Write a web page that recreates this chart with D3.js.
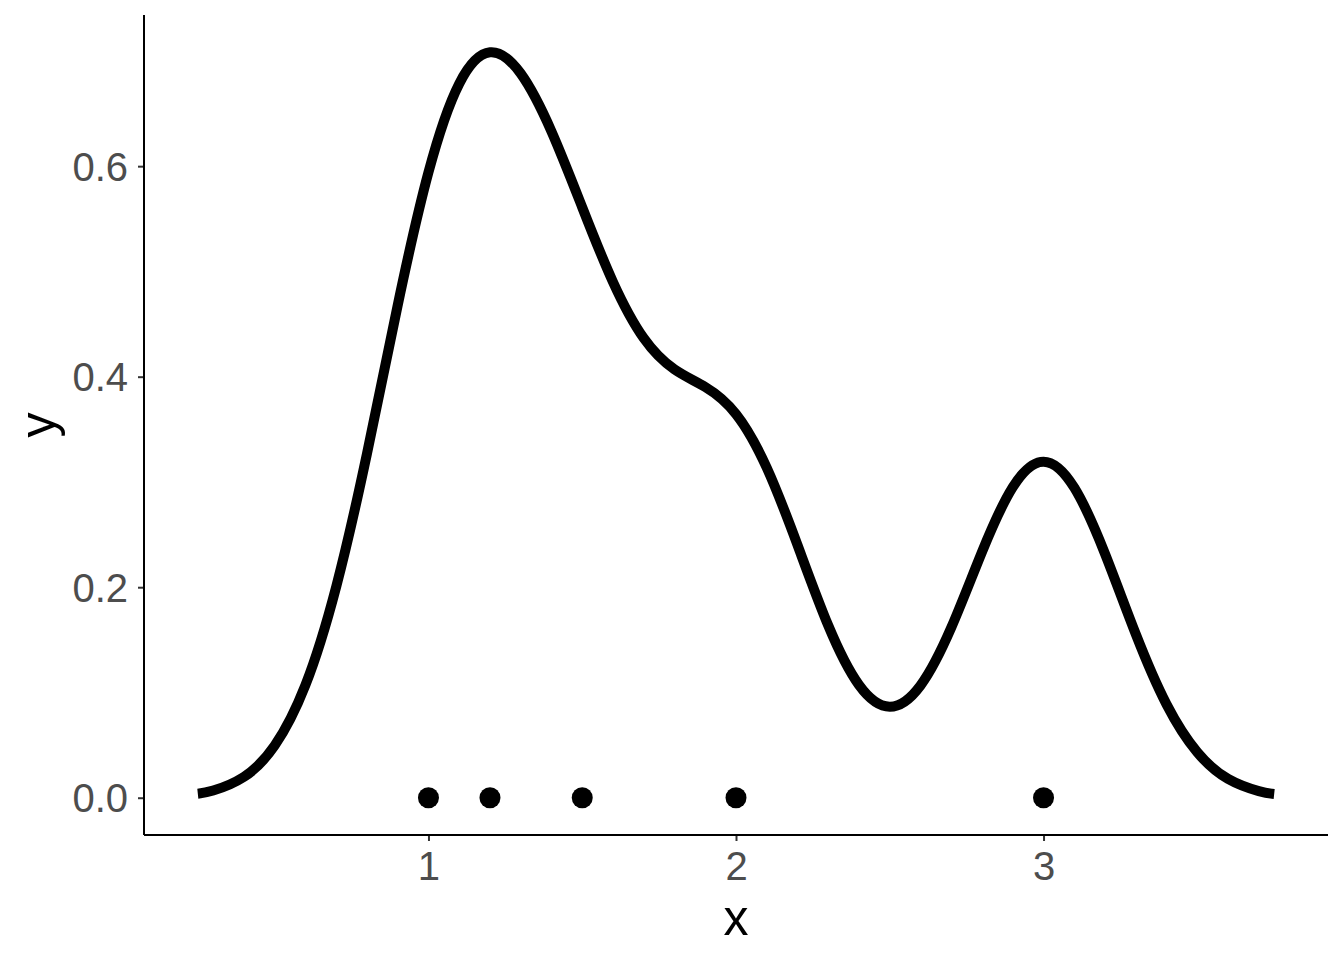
<!DOCTYPE html>
<html>
<head>
<meta charset="utf-8">
<script src="https://cdn.jsdelivr.net/npm/d3@7"></script>
<style>
  body { margin: 0; background: #fff; }
  text { font-family: "Liberation Sans", Arial, sans-serif; }
</style>
</head>
<body>
<div id="chart"></div>
<script>
// observed points (all at y = 0)
var pointX = [1, 1.2, 1.5, 2, 3];
// density curve
var curveX = [0.25, 0.3, 0.4, 0.5, 0.6, 0.7, 0.8, 0.9, 1.0, 1.1, 1.2, 1.3, 1.4, 1.5, 1.6, 1.7, 1.8, 1.9,
  2.0, 2.1, 2.2, 2.3, 2.4, 2.5, 2.6, 2.7, 2.8, 2.9, 3.0, 3.1, 3.2, 3.3, 3.4, 3.5, 3.6, 3.7, 3.75];
var curveY = [0.0038, 0.0068, 0.0198, 0.0496, 0.1071, 0.2005, 0.3268, 0.4679, 0.5942, 0.6784, 0.7082,
  0.6880, 0.6330, 0.5609, 0.4900, 0.4366, 0.4069, 0.3902, 0.3645, 0.3135, 0.2401, 0.1636, 0.1071,
  0.0865, 0.1067, 0.1617, 0.2336, 0.2951, 0.3193, 0.2946, 0.2317, 0.1554, 0.0887, 0.0432, 0.0179,
  0.0063, 0.0035];
var xTicks = [1, 2, 3];
var yTicks = [0, 0.2, 0.4, 0.6];

var svgWidth = 1344, svgHeight = 960;
var margin = {top: 15, right: 16, bottom: 125, left: 144};
var chartWidth = svgWidth - margin.left - margin.right;
var chartHeight = svgHeight - margin.top - margin.bottom;

var svg = d3.select("#chart").append("svg")
  .attr("width", svgWidth)
  .attr("height", svgHeight);
var g = svg.append("g")
  .attr("transform", `translate(${margin.left},${margin.top})`);

// ggplot style 5% expansion
var xMin = d3.min(curveX), xMax = d3.max(curveX);
var yMin = 0, yMax = d3.max(curveY);
var xPad = (xMax - xMin) * 0.05, yPad = (yMax - yMin) * 0.05;
var xScale = d3.scaleLinear().domain([xMin - xPad, xMax + xPad]).range([0, chartWidth]);
var yScale = d3.scaleLinear().domain([yMin - yPad, yMax + yPad]).range([chartHeight, 0]);

var data = curveX.map((d, i) => ({x: d, y: curveY[i]}));
var line = d3.line()
  .x(d => xScale(d.x))
  .y(d => yScale(d.y))
  .curve(d3.curveNatural);

g.append("path")
  .datum(data)
  .attr("d", line)
  .attr("fill", "none")
  .attr("stroke", "#000")
  .attr("stroke-width", 10);

g.selectAll(".pt")
  .data(pointX)
  .enter()
  .append("circle")
  .attr("class", "pt")
  .attr("cx", d => xScale(d))
  .attr("cy", yScale(0))
  .attr("r", 10.5)
  .attr("fill", "#000");

// axes
var bottomAxis = d3.axisBottom(xScale).tickValues(xTicks).tickSize(6).tickPadding(10).tickFormat(d3.format("d"));
var leftAxis = d3.axisLeft(yScale).tickValues(yTicks).tickSize(6).tickPadding(10).tickFormat(d3.format(".1f"));

var xAxisG = g.append("g")
  .attr("transform", `translate(0,${chartHeight})`)
  .call(bottomAxis);
var yAxisG = g.append("g").call(leftAxis);

[xAxisG, yAxisG].forEach(a => {
  a.select(".domain").remove();
  a.selectAll(".tick line").attr("stroke", "#333").attr("stroke-width", 2);
  a.selectAll(".tick text")
    .attr("fill", "#4d4d4d")
    .attr("font-size", 40)
    .attr("font-family", "Liberation Sans, Arial, sans-serif");
});
yAxisG.selectAll(".tick text").attr("dy", "0.35em");
xAxisG.selectAll(".tick text").attr("dy", "0.72em");

// axis lines
g.append("line")
  .attr("x1", 0).attr("x2", chartWidth)
  .attr("y1", chartHeight).attr("y2", chartHeight)
  .attr("stroke", "#000").attr("stroke-width", 2);
g.append("line")
  .attr("x1", 0).attr("x2", 0)
  .attr("y1", 0).attr("y2", chartHeight)
  .attr("stroke", "#000").attr("stroke-width", 2);

// axis titles
svg.append("text")
  .attr("x", margin.left + chartWidth / 2)
  .attr("y", 935)
  .attr("text-anchor", "middle")
  .attr("font-size", 50)
  .attr("fill", "#000")
  .text("x");
svg.append("text")
  .attr("transform", `translate(55,${margin.top + chartHeight / 2})rotate(-90)`)
  .attr("text-anchor", "middle")
  .attr("font-size", 50)
  .attr("fill", "#000")
  .text("y");
</script>
</body>
</html>
